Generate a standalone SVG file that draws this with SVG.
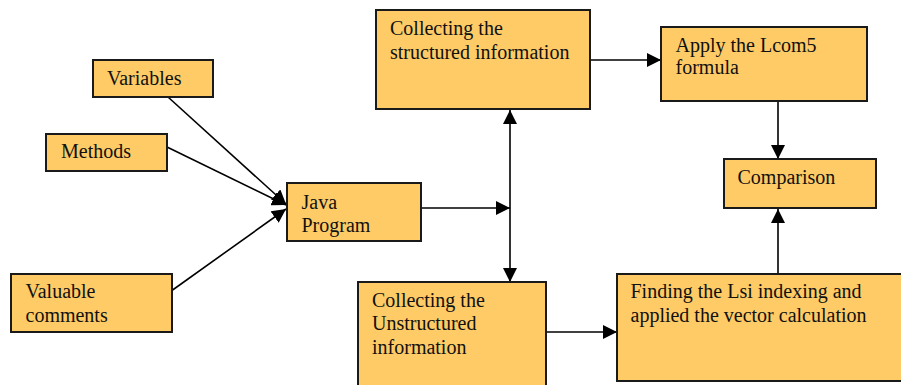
<svg xmlns="http://www.w3.org/2000/svg" width="901" height="385" viewBox="0 0 901 385">
<style>
.box{fill:#FECB66;stroke:#1a1a1a;stroke-width:2}
.t{font-family:"Liberation Serif","Times New Roman",serif;font-size:20px;fill:#111}
.c{stroke:#000;stroke-width:1.6;fill:none}
</style>
<defs>
<marker id="ah" markerUnits="userSpaceOnUse" markerWidth="16" markerHeight="14" refX="14" refY="7" orient="auto-start-reverse">
<path d="M0,0 L14,7 L0,14 Z" fill="#000"/>
</marker>
</defs>
<rect width="901" height="385" fill="#fff"/>
<g id="connectors">
<line class="c" x1="168" y1="97" x2="286" y2="204" marker-end="url(#ah)"/>
<line class="c" x1="167" y1="147" x2="286" y2="205" marker-end="url(#ah)"/>
<line class="c" x1="167" y1="294" x2="286" y2="209" marker-end="url(#ah)"/>
<line class="c" x1="421" y1="208" x2="510" y2="208" marker-end="url(#ah)"/>
<line class="c" x1="510" y1="110" x2="510" y2="282" marker-start="url(#ah)" marker-end="url(#ah)"/>
<line class="c" x1="590" y1="60" x2="661" y2="60" marker-end="url(#ah)"/>
<line class="c" x1="778" y1="101" x2="778" y2="159" marker-end="url(#ah)"/>
<line class="c" x1="778" y1="274" x2="778" y2="209" marker-end="url(#ah)"/>
<line class="c" x1="546" y1="332" x2="617" y2="332" marker-end="url(#ah)"/>
</g>
<g id="variables">
<rect class="box" x="93" y="60" width="120" height="37"/>
<text class="t" x="107" y="85">Variables</text>
</g>
<g id="methods">
<rect class="box" x="46" y="134" width="121" height="37"/>
<text class="t" x="61" y="158">Methods</text>
</g>
<g id="java">
<rect class="box" x="287" y="183" width="134" height="58"/>
<text class="t" x="301.5" y="209">Java</text>
<text class="t" x="301.5" y="232">Program</text>
</g>
<g id="valuable">
<rect class="box" x="11" y="274" width="161" height="58"/>
<text class="t" x="25.5" y="298">Valuable</text>
<text class="t" x="25.5" y="321.5">comments</text>
</g>
<g id="structured">
<rect class="box" x="376" y="10" width="214" height="99"/>
<text class="t" x="390" y="35">Collecting the</text>
<text class="t" x="390" y="58.5">structured information</text>
</g>
<g id="lcom5">
<rect class="box" x="661" y="27" width="206" height="74"/>
<text class="t" x="675.5" y="52">Apply the Lcom5</text>
<text class="t" x="675.5" y="74">formula</text>
</g>
<g id="comparison">
<rect class="box" x="724" y="159" width="152" height="49"/>
<text class="t" x="737.5" y="184">Comparison</text>
</g>
<g id="unstructured">
<rect class="box" x="358" y="282" width="188" height="110"/>
<text class="t" x="372" y="306.5">Collecting the</text>
<text class="t" x="372" y="330">Unstructured</text>
<text class="t" x="372" y="353.5">information</text>
</g>
<g id="lsi">
<rect class="box" x="617" y="274" width="290" height="107"/>
<text class="t" x="630.5" y="298">Finding the Lsi indexing and</text>
<text class="t" x="630.5" y="322">applied the vector calculation</text>
</g>
</svg>
